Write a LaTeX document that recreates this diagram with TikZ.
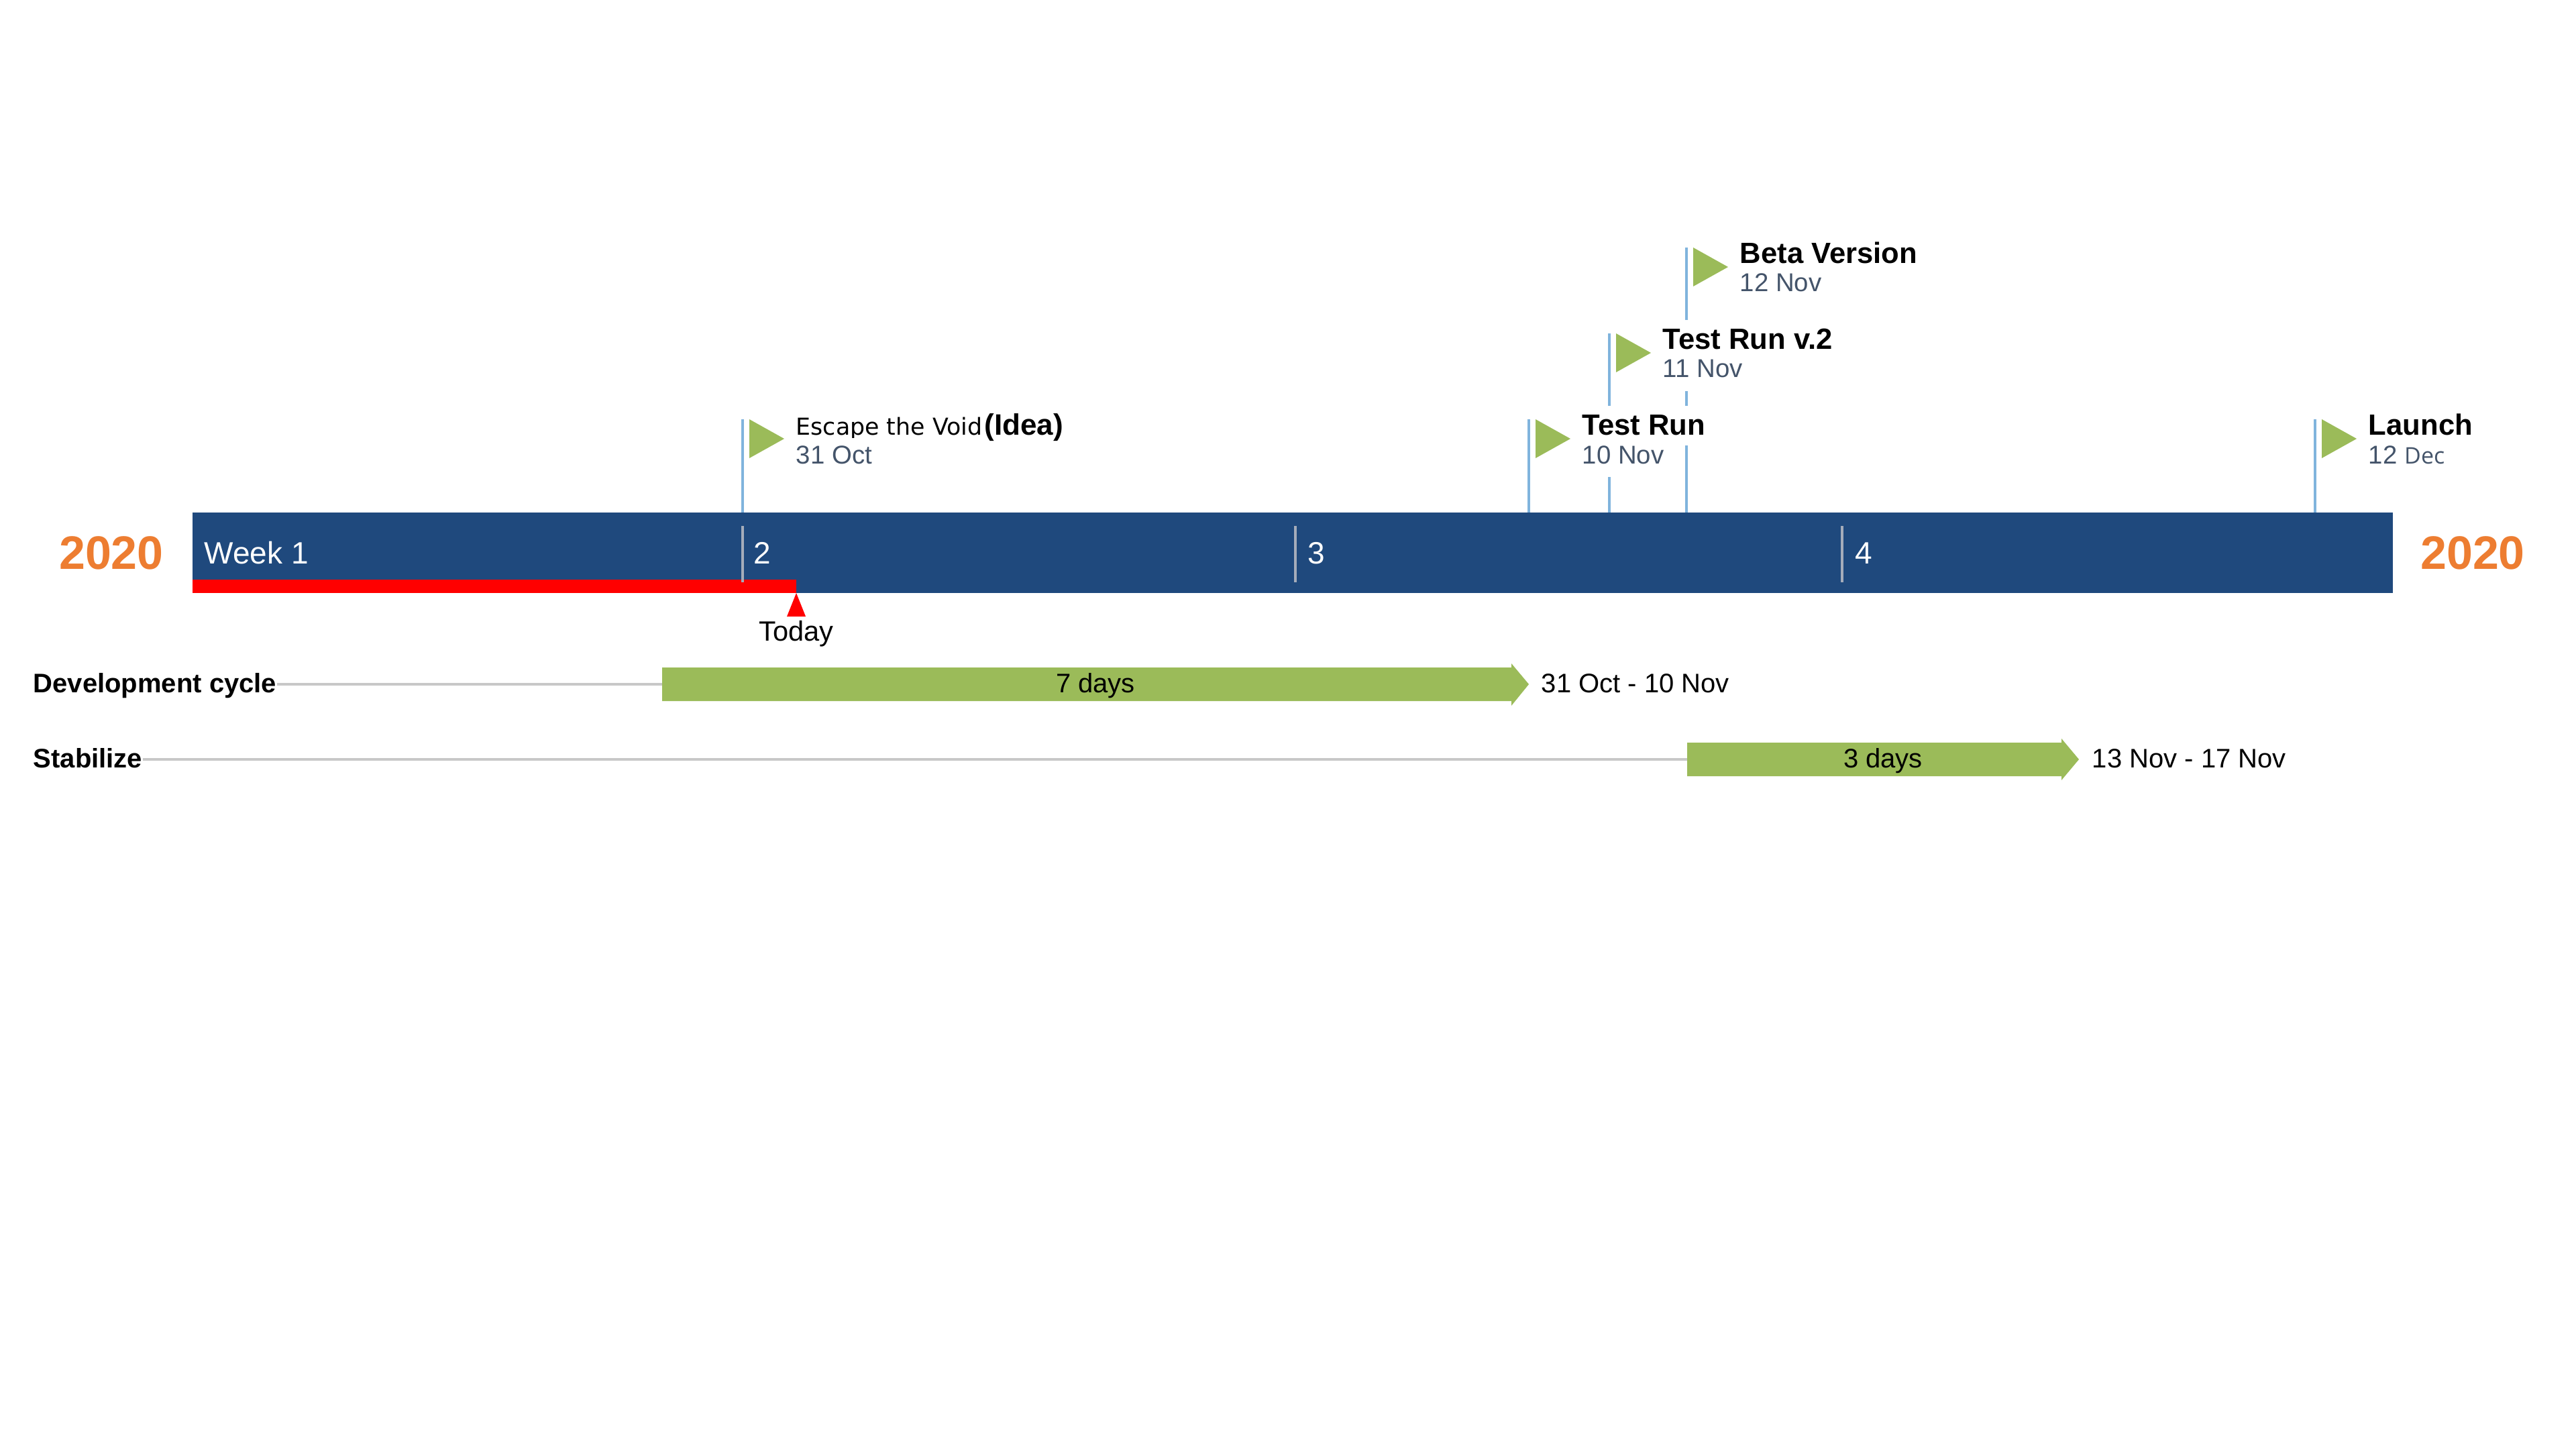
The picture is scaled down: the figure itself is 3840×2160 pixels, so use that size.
\documentclass[tikz,border=0pt]{standalone}
\usepackage{fontspec}
\setmainfont{Liberation Sans}
\newfontfamily\dejavu{DejaVu Sans}
\newfontfamily\opensans{Open Sans}
\definecolor{barblue}{RGB}{31,73,125}
\definecolor{flaggreen}{RGB}{155,187,89}
\definecolor{yearorange}{RGB}{237,125,49}
\definecolor{dategray}{RGB}{68,84,106}
\definecolor{stemblue}{RGB}{128,180,221}
\definecolor{taskgray}{RGB}{200,200,200}
\definecolor{divgray}{RGB}{165,172,186}
\begin{document}
\begin{tikzpicture}[x=0.25pt,y=-0.25pt,
 yearlbl/.style={font=\fontsize{17.5}{21}\selectfont\bfseries, text=yearorange, inner sep=0, anchor=base},
 weeklbl/.style={font=\fontsize{11.5}{14}\selectfont, text=white, inner sep=0, anchor=base west},
 stemline/.style={draw=stemblue, line width=1pt},
 divline/.style={draw=divgray, line width=1pt},
 msttl/.style={font=\fontsize{10.9}{13}\selectfont\bfseries, fill=white, inner sep=1pt, anchor=base west, text height=1em, text depth=.28em},
 msdate/.style={font=\fontsize{9.6}{12}\selectfont, text=dategray, fill=white, inner sep=1pt, anchor=base west, text height=.85em, text depth=.4em},
 flagfill/.style={fill=flaggreen},
 todaytxt/.style={font=\fontsize{10.4}{12}\selectfont, inner sep=0, anchor=base},
 tasklbl/.style={font=\fontsize{10}{12}\selectfont\bfseries, inner sep=0, anchor=base west},
 taskline/.style={draw=taskgray, line width=0.9pt},
 taskbar/.style={fill=flaggreen},
 tasktxt/.style={font=\fontsize{10}{12}\selectfont, inner sep=0, anchor=base},
 daterange/.style={font=\fontsize{10}{12}\selectfont, inner sep=0, anchor=base west}]

\fill[white] (0,0) rectangle (3840,2160);
\useasboundingbox (0,0) rectangle (3840,2160);

% milestone stems
\coordinate (s1t) at (1107,625); \coordinate (s1b) at (1107,764);
\coordinate (s2t) at (2279,625); \coordinate (s2b) at (2279,764);
\coordinate (s3t) at (2399,497); \coordinate (s3b) at (2399,764);
\coordinate (s4t) at (2514,369); \coordinate (s4b) at (2514,764);
\coordinate (s5t) at (3451,625); \coordinate (s5b) at (3451,764);
\foreach \i in {1,...,5} \draw[stemline] (s\i t) -- (s\i b);

% milestone labels
\node[msttl] (m1t) at (1182,649) {{\dejavu\mdseries\fontsize{8.7}{11}\selectfont Escape the Void}\hspace{0.8pt}\fontsize{11}{13}\selectfont(Idea)};
\node[msdate] (m1d) at (1182,691) {31 Oct};
\node[msttl] (m2t) at (2354,649) {Test Run};
\node[msdate] (m2d) at (2354,691) {10 Nov};
\node[msttl] (m3t) at (2474,521) {Test Run v.2};
\node[msdate] (m3d) at (2474,563) {11 Nov};
\node[msttl] (m4t) at (2589,393) {Beta Version};
\node[msdate] (m4d) at (2589,435) {12 Nov};
\node[msttl] (m5t) at (3526,649) {Launch};
\node[msdate] (m5d) at (3526,691) {12 {\opensans\fontsize{8.5}{10}\selectfont Dec}};

% flags
\foreach \x/\t in {1107/625, 2279/625, 2399/497, 2514/369, 3451/625}
  \fill[flagfill] (\x+10,\t) -- (\x+62,\t+29) -- (\x+10,\t+58) -- cycle;

% timeline bar
\fill[barblue] (287,764) rectangle (3567,884);
\fill[red] (287,864) rectangle (1187,884);
\draw[divline] (1107,784) -- (1107,868);
\draw[divline] (1931,784) -- (1931,868);
\draw[divline] (2746,784) -- (2746,868);
\node[weeklbl] (w1) at (304,840) {Week 1};
\node[weeklbl] (w2) at (1123,840) {2};
\node[weeklbl] (w3) at (1949,840) {3};
\node[weeklbl] (w4) at (2765,840) {4};
\node[yearlbl] (yl) at (166,848) {2020};
\node[yearlbl] (yr) at (3686,848) {2020};

% today marker
\fill[red] (1187,884) -- (1201,919) -- (1173,919) -- cycle;
\node[todaytxt] (today) at (1187,955) {Today};

% tasks
\node[tasklbl] (devlbl) at (49,1032) {Development cycle};
\coordinate (devs) at (987,1020);
\draw[taskline] (devlbl.east |- devs) -- (devs);
\fill[taskbar] (987,995) -- (2253,995) -- (2253,989) -- (2279,1020) -- (2253,1052) -- (2253,1045) -- (987,1045) -- cycle;
\node[tasktxt] (devdur) at (1633,1032) {7 days};
\node[daterange] (devrng) at (2297,1032) {31 Oct - 10 Nov};

\node[tasklbl] (stblbl) at (49,1144) {Stabilize};
\coordinate (stbs) at (2515,1132);
\draw[taskline] (stblbl.east |- stbs) -- (stbs);
\fill[taskbar] (2515,1107) -- (3073,1107) -- (3073,1101) -- (3099,1132) -- (3073,1163) -- (3073,1157) -- (2515,1157) -- cycle;
\node[tasktxt] (stbdur) at (2807,1144) {3 days};
\node[daterange] (stbrng) at (3118,1144) {13 Nov - 17 Nov};
\end{tikzpicture}
\end{document}
